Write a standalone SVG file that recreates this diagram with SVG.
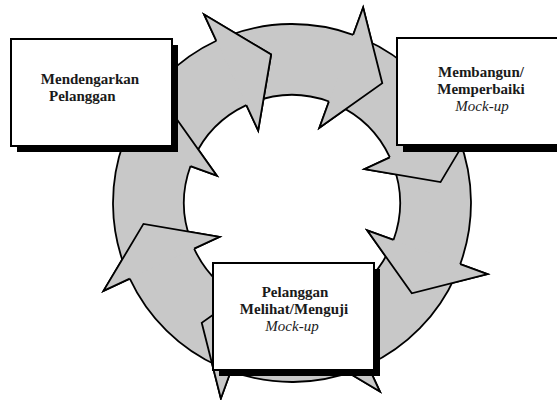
<svg xmlns="http://www.w3.org/2000/svg" width="557" height="400" viewBox="0 0 557 400">
<style>
.arr{fill:#c8c8c8;stroke:#000;stroke-width:1.8;stroke-linejoin:miter}
.box{fill:#fff;stroke:#000;stroke-width:2}
.shadow{fill:#000}
.t{font-family:"Liberation Serif","Times New Roman",serif;font-size:15px;font-weight:bold;fill:#1a1a1a}
.i{font-family:"Liberation Serif","Times New Roman",serif;font-size:15px;font-style:italic;fill:#1a1a1a}
</style>
<rect width="557" height="400" fill="#fff"/>
<g id="connectors">
<path class="arr" d="M227.85,35.89 A179,179 0 0 1 353.22,34.80 L363.14,7.54 L382.27,83.20 L319.36,127.82 L328.94,101.51 A108,108 0 0 0 253.30,102.17 Z"/>
<path class="arr" d="M364.81,39.47 A179,179 0 0 1 454.23,127.35 L480.51,115.09 L440.54,182.12 L364.50,169.19 L389.88,157.36 A108,108 0 0 0 335.93,104.34 Z"/>
<path class="arr" d="M459.11,138.85 A179,179 0 0 1 460.20,264.22 L487.46,274.14 L411.80,293.27 L367.18,230.36 L393.49,239.94 A108,108 0 0 0 392.83,164.30 Z"/>
<path class="arr" d="M455.53,275.81 A179,179 0 0 1 367.65,365.23 L379.91,391.51 L312.88,351.54 L325.81,275.50 L337.64,300.88 A108,108 0 0 0 390.66,246.93 Z"/>
<path class="arr" d="M356.15,370.11 A179,179 0 0 1 230.78,371.20 L220.86,398.46 L201.73,322.80 L264.64,278.18 L255.06,304.49 A108,108 0 0 0 330.70,303.83 Z"/>
<path class="arr" d="M219.19,366.53 A179,179 0 0 1 129.77,278.65 L103.49,290.91 L143.46,223.88 L219.50,236.81 L194.12,248.64 A108,108 0 0 0 248.07,301.66 Z"/>
<path class="arr" d="M124.89,267.15 A179,179 0 0 1 123.80,141.78 L96.54,131.86 L172.20,112.73 L216.82,175.64 L190.51,166.06 A108,108 0 0 0 191.17,241.70 Z"/>
<path class="arr" d="M128.47,130.19 A179,179 0 0 1 216.35,40.77 L204.09,14.49 L271.12,54.46 L258.19,130.50 L246.36,105.12 A108,108 0 0 0 193.34,159.07 Z"/>
<path class="arr" d="M353.22,34.80 L363.14,7.54 L382.27,83.20 L319.36,127.82 L328.94,101.51"/>
<path class="arr" d="M454.23,127.35 L480.51,115.09 L440.54,182.12 L364.50,169.19 L389.88,157.36"/>
<path class="arr" d="M460.20,264.22 L487.46,274.14 L411.80,293.27 L367.18,230.36 L393.49,239.94"/>
<path class="arr" d="M367.65,365.23 L379.91,391.51 L312.88,351.54 L325.81,275.50 L337.64,300.88"/>
<path class="arr" d="M230.78,371.20 L220.86,398.46 L201.73,322.80 L264.64,278.18 L255.06,304.49"/>
<path class="arr" d="M129.77,278.65 L103.49,290.91 L143.46,223.88 L219.50,236.81 L194.12,248.64"/>
<path class="arr" d="M123.80,141.78 L96.54,131.86 L172.20,112.73 L216.82,175.64 L190.51,166.06"/>
<path class="arr" d="M216.35,40.77 L204.09,14.49 L271.12,54.46 L258.19,130.50 L246.36,105.12"/>
</g>
<g id="mendengarkan">
<rect class="shadow" x="17" y="45" width="161" height="107"/>
<rect class="box" x="11" y="39" width="161" height="107"/>
<text class="t" x="90" y="84" text-anchor="middle">Mendengarkan</text>
<text class="t" x="49" y="101">Pelanggan</text>
</g>
<g id="membangun">
<rect class="shadow" x="403" y="44" width="170" height="108"/>
<rect class="box" x="397" y="38" width="170" height="107"/>
<text class="t" x="481" y="77" text-anchor="middle">Membangun/</text>
<text class="t" x="481" y="94" text-anchor="middle">Memperbaiki</text>
<text class="i" x="482" y="111" text-anchor="middle">Mock-up</text>
</g>
<g id="pelanggan-menguji">
<rect class="shadow" x="219" y="269" width="161" height="107"/>
<rect class="box" x="213" y="263" width="161" height="107"/>
<text class="t" x="295" y="297" text-anchor="middle">Pelanggan</text>
<text class="t" x="294" y="314" text-anchor="middle">Melihat/Menguji</text>
<text class="i" x="292" y="331" text-anchor="middle">Mock-up</text>
</g>
</svg>
